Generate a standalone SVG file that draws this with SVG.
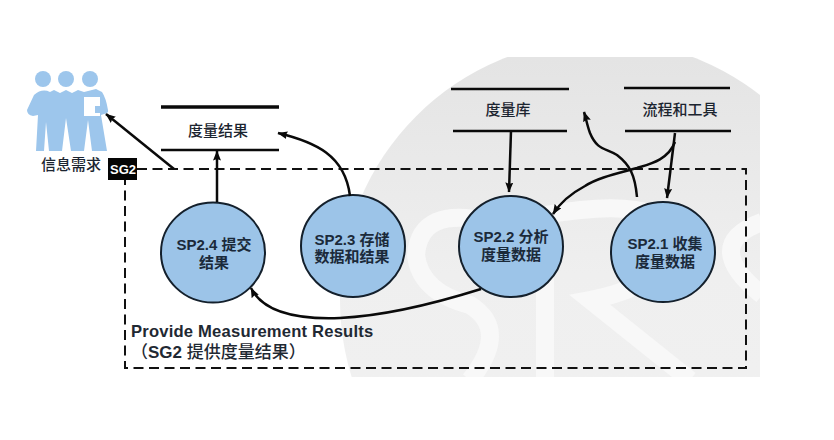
<svg xmlns="http://www.w3.org/2000/svg" width="834" height="440" viewBox="0 0 834 440">
<style>
text{font-family:"Liberation Sans","Noto Sans CJK SC",sans-serif;fill:#1c2530;text-anchor:middle}
.s{font-size:15px;font-weight:500}
.n{font-size:15px;font-weight:700;fill:#1b2a3a}
.c{fill:#9cc4e8;stroke:#14202c;stroke-width:2}
.l{stroke:#0a0a0a;stroke-width:2.5;fill:none}
.a{stroke:#0a0a0a;stroke-width:2.5;fill:none;marker-end:url(#h)}
.p{fill:#9dc6ec}
</style>
<defs>
<marker id="h" markerUnits="userSpaceOnUse" markerWidth="11" markerHeight="9" refX="9.5" refY="4" orient="auto"><path d="M0 0L10 4L0 8L1.5 4Z" fill="#0a0a0a"/></marker>
<clipPath id="w"><rect x="330" y="57" width="430" height="320"/></clipPath>
<linearGradient id="g" x1="0" y1="0" x2="0" y2="1"><stop offset="0" stop-color="#e3e3e3"/><stop offset=".45" stop-color="#efefef"/><stop offset="1" stop-color="#f2f2f2"/></linearGradient>
</defs>
<rect width="834" height="440" fill="#fff"/>
<g clip-path="url(#w)">
<rect x="330" y="57" width="430" height="320" fill="none"/>
<circle cx="600" cy="300" r="260" fill="url(#g)"/>
<g fill="none" stroke="#f8f8f8" stroke-width="18">
<path d="M490 222Q420 205 416 255Q420 292 470 305Q510 330 470 380"/>
<path d="M545 215V380M545 215Q660 195 675 235Q670 285 590 300L690 380"/>
<path d="M762 222Q700 245 762 295"/>
</g>
</g>
<g id="need">
<g class="p">
<circle cx="43" cy="79" r="8"/><circle cx="66" cy="79" r="8"/><circle cx="90" cy="79" r="8"/>
<path d="M34 95Q42 88 50 92L54 90L60 93L66 90L72 93L78 90L84 92L96 89L102 92Q106 98 108 110Q109 113 104 114L101 115L107 151H92L88 120L84 151H71L66 118L62 151H49L46 122L44 151H36L38 115L33 116Q27 115 27 110Z"/>
</g>
<path d="M84 97H100V106H95V113H100V116H84Z" fill="#fff"/>
<text class="s" x="71" y="170">信息需求</text>
</g>
<g id="boundary">
<path d="M137 169H746V368H125V180" fill="none" stroke="#111" stroke-width="2" stroke-dasharray="10 5.5"/>
</g>
<g id="sg2">
<rect x="108" y="158" width="29" height="22" fill="#050505"/>
<text x="123" y="174" style="font-size:13px;font-weight:700;fill:#fff">SG2</text>
</g>
<g id="store-results">
<path class="l" d="M161 107H279" style="stroke-width:3.5"/><path class="l" d="M161 150H279"/>
<text class="s" x="218" y="136">度量结果</text>
</g>
<g id="store-repo">
<path class="l" d="M451 89H569"/><path class="l" d="M453 131H567"/>
<text class="s" x="508" y="115">度量库</text>
</g>
<g id="store-tools">
<path class="l" d="M624 88H730"/><path class="l" d="M625 131H731"/>
<text class="s" x="680" y="115">流程和工具</text>
</g>
<g id="sp24">
<ellipse class="c" cx="213" cy="252.5" rx="52" ry="50"/>
<text class="n" x="214" y="250">SP2.4 提交</text><text class="n" x="214" y="268">结果</text>
</g>
<g id="sp23">
<ellipse class="c" cx="353" cy="246" rx="52" ry="51"/>
<text class="n" x="352" y="245">SP2.3 存储</text><text class="n" x="352" y="262">数据和结果</text>
</g>
<g id="sp22">
<ellipse class="c" cx="511" cy="246.5" rx="52" ry="50.5"/>
<text class="n" x="511" y="242">SP2.2 分析</text><text class="n" x="511" y="260">度量数据</text>
</g>
<g id="sp21">
<ellipse class="c" cx="663" cy="252" rx="52" ry="50"/>
<text class="n" x="665" y="249">SP2.1 收集</text><text class="n" x="665" y="267">度量数据</text>
</g>
<g id="connectors">
<path class="a" d="M174 169L106 114"/>
<path class="a" d="M217 202V151"/>
<path class="a" d="M350 196C345 155 315 142 278 133"/>
<path class="a" d="M511 131L509 192"/>
<path class="a" d="M675 133L667 198"/>
<path class="a" d="M675 142C668 160 650 164 637 168C615 174 597 178 585 186C570 194 560 203 553 214"/>
<path class="a" d="M637 197C635 175 630 165 617 155C605 148 597 150 590 133C587 125 586 118 584 112"/>
<path class="a" d="M481 289C430 305 380 316 340 318C290 320 262 310 251 288"/>
</g>
<g id="caption">
<text x="131" y="337" style="font-size:16.6px;font-weight:700;text-anchor:start;letter-spacing:.2px;fill:#1f2933">Provide Measurement Results</text>
<text x="131" y="358" style="font-size:17px;text-anchor:start;font-weight:500;fill:#1f2933">（<tspan font-weight="700">SG2</tspan> 提供度量结果）</text>
</g>
</svg>
